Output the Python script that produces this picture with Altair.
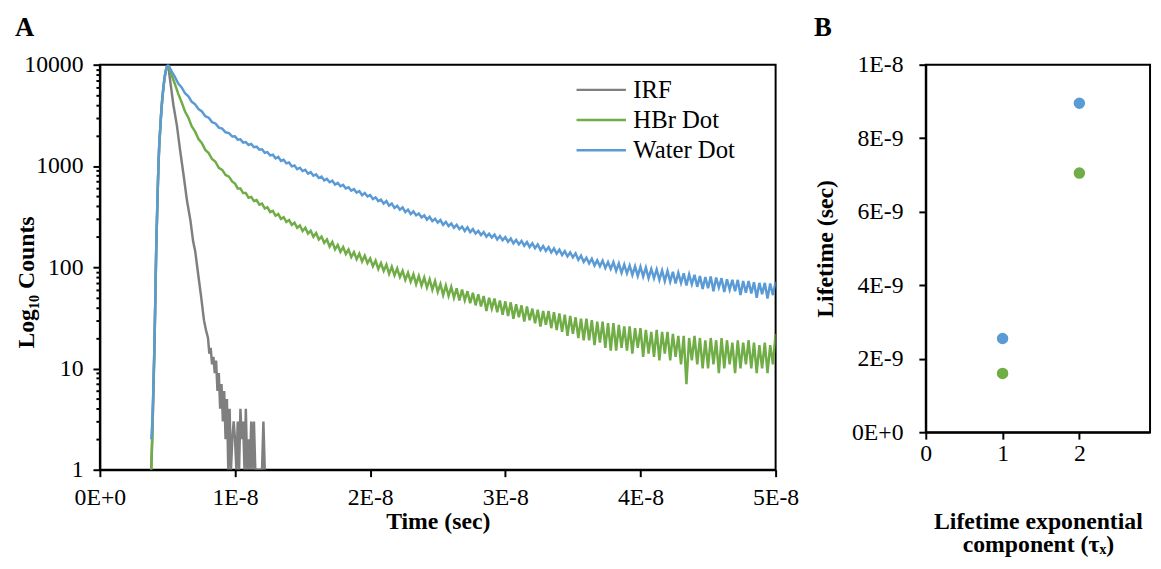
import altair as alt
import pandas as pd

# ---------------- Panel A data (time in ns, counts) ----------------
t_rise = [3.80, 3.88, 3.95, 4.03, 4.10, 4.17, 4.25, 4.32, 4.39, 4.47,
          4.54, 4.61, 4.69, 4.76, 4.83, 4.90, 4.98, 5.05]
t_early = [5.3, 5.55, 5.8, 6.05, 6.3, 6.55, 6.8, 7.05, 7.3, 7.55,
           7.8, 8.05, 8.3, 8.55, 8.8, 9.05, 9.3, 9.55, 9.8]
t_tail = [10.0, 10.2, 10.4, 10.6, 10.8, 11.0, 11.2, 11.4, 11.6, 11.8,
          12.0, 12.2, 12.4, 12.6, 12.8, 13.0, 13.2, 13.4, 13.6, 13.8,
          14.0, 14.2, 14.4, 14.6, 14.8, 15.0, 15.2, 15.4, 15.6, 15.8,
          16.0, 16.2, 16.4, 16.6, 16.8, 17.0, 17.2, 17.4, 17.6, 17.8,
          18.0, 18.2, 18.4, 18.6, 18.8, 19.0, 19.2, 19.4, 19.6, 19.8,
          20.0, 20.2, 20.4, 20.6, 20.8, 21.0, 21.2, 21.4, 21.6, 21.8,
          22.0, 22.2, 22.4, 22.6, 22.8, 23.0, 23.2, 23.4, 23.6, 23.8,
          24.0, 24.2, 24.4, 24.6, 24.8, 25.0, 25.2, 25.4, 25.6, 25.8,
          26.0, 26.2, 26.4, 26.6, 26.8, 27.0, 27.2, 27.4, 27.6, 27.8,
          28.0, 28.2, 28.4, 28.6, 28.8, 29.0, 29.2, 29.4, 29.6, 29.8,
          30.0, 30.2, 30.4, 30.6, 30.8, 31.0, 31.2, 31.4, 31.6, 31.8,
          32.0, 32.2, 32.4, 32.6, 32.8, 33.0, 33.2, 33.4, 33.6, 33.8,
          34.0, 34.2, 34.4, 34.6, 34.8, 35.0, 35.2, 35.4, 35.6, 35.8,
          36.0, 36.2, 36.4, 36.6, 36.8, 37.0, 37.2, 37.4, 37.6, 37.8,
          38.0, 38.2, 38.4, 38.6, 38.8, 39.0, 39.2, 39.4, 39.6, 39.8,
          40.0, 40.2, 40.4, 40.6, 40.8, 41.0, 41.2, 41.4, 41.6, 41.8,
          42.0, 42.2, 42.4, 42.6, 42.8, 43.0, 43.2, 43.4, 43.6, 43.8,
          44.0, 44.2, 44.4, 44.6, 44.8, 45.0, 45.2, 45.4, 45.6, 45.8,
          46.0, 46.2, 46.4, 46.6, 46.8, 47.0, 47.2, 47.4, 47.6, 47.8,
          48.0, 48.2, 48.4, 48.6, 48.8, 49.0, 49.2, 49.4, 49.6, 49.8,
          50.0]

water_rise = [2, 3, 6, 16, 50, 160, 420, 900, 1600, 2400,
              3400, 4500, 5800, 7000, 8100, 9000, 9700, 10000]
water_early = [8650, 7580, 6520, 5960, 5220, 4870, 4300, 4060, 3640, 3450,
               3100, 3000, 2710, 2630, 2390, 2340, 2150, 2110, 1950]
water_tail = [1960, 1820, 1830, 1700, 1720, 1610, 1650, 1530, 1550, 1450,
              1460, 1350, 1370, 1270, 1290, 1190, 1230, 1120, 1150, 1060,
              1080, 990, 1010, 930, 960, 890, 915, 840, 870, 800,
              825, 760, 785, 720, 745, 690, 715, 655, 680, 630,
              650, 600, 615, 570, 590, 545, 565, 515, 540, 500,
              515, 470, 490, 450, 465, 425, 450, 405, 425, 385,
              405, 370, 390, 350, 370, 335, 355, 325, 340, 310,
              325, 295, 315, 285, 300, 275, 292, 262, 280, 255,
              270, 245, 262, 238, 252, 228, 248, 222, 238, 215,
              228, 208, 222, 200, 214, 196, 210, 188, 203, 185,
              198, 178, 192, 172, 186, 168, 182, 163, 177, 158,
              172, 154, 168, 148, 162, 145, 158, 140, 153, 136,
              149, 132, 144, 128, 140, 125, 137, 118, 130, 113,
              124, 109, 121, 104, 117, 102, 116, 98, 112, 96,
              112, 92, 109, 88, 106, 87, 104, 84, 102, 82,
              101, 81, 99, 78, 96, 78, 95, 75, 93, 73,
              92, 72, 90, 69, 88, 70, 87, 66, 85, 68,
              84, 64, 82, 61, 80, 62, 81, 58, 79, 63,
              78, 57, 76, 60, 75, 58, 75, 53, 73, 56,
              73, 55, 71, 50, 70, 54, 70, 49, 69, 53,
              72]

hbr_rise = [1, 2.5, 5.5, 15, 45, 150, 400, 870, 1550, 2350,
            3350, 4450, 5700, 6900, 8000, 8900, 9600, 10000]
hbr_early = [7950, 6450, 5150, 4250, 3450, 2990, 2460, 2180, 1840, 1680,
             1440, 1340, 1170, 1100, 960, 915, 815, 785, 700]
hbr_tail = [670, 600, 600, 540, 540, 485, 495, 450, 460, 415,
            425, 380, 390, 350, 360, 322, 335, 300, 312, 280,
            292, 262, 275, 245, 258, 228, 245, 215, 229, 200,
            218, 188, 200, 174, 188, 160, 178, 150, 166, 142,
            158, 135, 149, 126, 141, 120, 136, 114, 130, 110,
            122, 102, 116, 96, 110, 92, 106, 86, 101, 83,
            97, 80, 92, 75, 88, 72, 85, 68, 82, 66,
            79, 63, 76, 60, 73, 57, 68, 53, 66, 52,
            64, 50, 62, 47, 60, 47, 58, 44, 56, 42,
            54, 41, 52, 37, 50, 39, 49, 36, 47, 34,
            46, 33, 45, 31, 43, 32, 42, 29, 41, 30,
            39, 28, 38, 26, 37, 27, 37, 25, 36, 24,
            35, 23, 34, 21, 33, 22, 32, 20, 31, 19,
            31, 19, 30, 17, 29, 18, 29, 16, 28, 15,
            28, 15, 27, 16, 26, 15, 26, 14, 25, 16,
            25, 13, 24, 14, 23, 13, 24, 12, 23, 14,
            23, 12, 22, 13, 21, 11, 21, 7, 20, 12,
            21, 11, 20, 10, 19, 10, 20, 11, 19, 9,
            20, 10, 19, 11, 18, 9, 19, 10, 18, 11,
            19, 10, 18, 9, 17, 10, 18, 9, 17, 11,
            22]

t_irf = [3.80, 3.88, 3.95, 4.03, 4.10, 4.17, 4.25, 4.32, 4.39, 4.47,
         4.54, 4.61, 4.69, 4.76, 4.83, 4.90, 4.98, 5.05,
         5.2, 5.44, 5.7, 5.93, 6.2, 6.45, 6.7, 6.9, 7.05, 7.3, 7.5, 7.7, 7.85, 8.0,
         8.1, 8.2, 8.3, 8.4, 8.5, 8.6, 8.7, 8.8, 8.9, 9.0,
         9.1, 9.2, 9.3, 9.4, 9.5, 9.6, 9.7, 9.8, 9.9, 10.0,
         10.1, 10.2, 10.3, 10.4, 10.5, 10.6, 10.7, 10.8, 10.9, 11.0,
         11.1, 11.2, 11.3, 11.4, 11.5, 11.6, 11.8, 12.0, 12.1, 12.2]
irf_counts = [1, 2, 5, 14, 45, 150, 400, 880, 1580, 2400,
              3400, 4500, 5800, 7000, 8100, 9000, 9700, 10000,
              7000, 4000, 2500, 1450, 800, 450, 290, 180, 145, 80, 50, 30, 24, 20,
              14, 16, 11, 13, 9, 12, 6, 9, 4, 7,
              3, 6, 2, 5, 1, 4, 1, 2, 3, 2,
              1, 3, 1, 4, 2, 3, 1, 4, 1, 2,
              1, 3, 1, 3, 1, 1, 1, 1, 3, 1]

series_names = ["IRF", "HBr Dot", "Water Dot"]
series_colors = ["#7f7f7f", "#70ad47", "#5b9bd5"]

# ---------------- Panel B data ----------------
component = [1, 2]
hbr_lifetime = [1.60e-9, 7.05e-9]
water_lifetime = [2.55e-9, 8.95e-9]

# ---------------- tables ----------------
t_main = t_rise + t_early + t_tail
rows = []
for t, v in zip(t_irf, irf_counts):
    rows.append({"t": t * 1e-9, "v": v, "series": "IRF"})
for t, v in zip(t_main, hbr_rise + hbr_early + hbr_tail):
    rows.append({"t": t * 1e-9, "v": v, "series": "HBr Dot"})
for t, v in zip(t_main, water_rise + water_early + water_tail):
    rows.append({"t": t * 1e-9, "v": v, "series": "Water Dot"})
dfA = pd.DataFrame(rows)

dfB = pd.DataFrame({
    "comp": component + component,
    "life": hbr_lifetime + water_lifetime,
    "sample": ["HBr Dot"] * 2 + ["Water Dot"] * 2,
})

FONT = "Liberation Serif"
sci = "upper(format(datum.value, '.0e'))"
yscale = alt.Scale(type="log", domain=[1, 10000], nice=False)

lines = alt.Chart(dfA).mark_line(strokeWidth=2.5, clip=True).encode(
    x=alt.X("t:Q",
            scale=alt.Scale(domain=[0, 5e-8], nice=False, zero=False),
            axis=alt.Axis(values=[0, 1e-8, 2e-8, 3e-8, 4e-8, 5e-8], labelExpr=sci,
                          title="Time (sec)", tickSize=7, labelPadding=9,
                          titlePadding=0, labelFlush=False)),
    y=alt.Y("v:Q", scale=yscale,
            axis=alt.Axis(values=[1, 10, 100, 1000, 10000], format="d",
                          title="Log₁₀ Counts", tickSize=7, labelPadding=10,
                          orient="left", titleX=-62, titleY=220, labelFlush=False)),
    color=alt.Color("series:N",
                    scale=alt.Scale(domain=series_names, range=series_colors),
                    sort=series_names,
                    legend=alt.Legend(title=None, orient="none", legendX=495, legendY=13,
                                      symbolType="M-2.5,0H2.5", symbolSize=400,
                                      symbolStrokeWidth=2.5, labelFontSize=25,
                                      labelFont=FONT, labelColor="black",
                                      rowPadding=4.5, labelOffset=20)),
)

minor_vals = [2, 3, 4, 5, 6, 7, 8, 9, 20, 30, 40, 50, 60, 70, 80, 90,
              200, 300, 400, 500, 600, 700, 800, 900,
              2000, 3000, 4000, 5000, 6000, 7000, 8000, 9000]
minor = alt.Chart(pd.DataFrame({"v": [1]})).mark_point(opacity=0).encode(
    y=alt.Y("v:Q", scale=yscale,
            axis=alt.Axis(values=minor_vals, labels=False, title=None, tickSize=4,
                          orient="left", domain=False, grid=False))
)

panelA = alt.layer(lines, minor).resolve_axis(y="independent").properties(
    width=684, height=410,
    title=alt.TitleParams("A", anchor="start", frame="bounds", fontSize=27,
                          font=FONT, fontWeight="bold", color="black", offset=11),
)

panelB = alt.Chart(dfB).mark_circle(size=135, opacity=1).encode(
    x=alt.X("comp:Q", scale=alt.Scale(domain=[0, 2.92], nice=False),
            axis=alt.Axis(values=[0, 1, 2], format="d",
                          title=["Lifetime exponential", "component (τₓ)"],
                          tickSize=7, labelPadding=3, titlePadding=44,
                          titleLineHeight=24, labelFlush=False)),
    y=alt.Y("life:Q", scale=alt.Scale(domain=[0, 1e-8], nice=False),
            axis=alt.Axis(values=[0, 2e-9, 4e-9, 6e-9, 8e-9, 1e-8], labelExpr=sci,
                          title="Lifetime (sec)", tickSize=7, labelPadding=16,
                          titlePadding=14, labelFlush=False)),
    color=alt.Color("sample:N",
                    scale=alt.Scale(domain=["HBr Dot", "Water Dot"],
                                    range=["#70ad47", "#5b9bd5"]),
                    legend=None),
).properties(
    width=227, height=372,
    title=alt.TitleParams("B", anchor="start", frame="bounds", fontSize=27,
                          font=FONT, fontWeight="bold", color="black", offset=11),
)

chart = alt.hconcat(panelA, panelB, spacing=12).resolve_scale(
    color="independent").resolve_legend(color="independent").configure_view(
    stroke="black", strokeWidth=2
).configure_axis(
    grid=False, domainColor="black", domainWidth=2, tickColor="black", tickWidth=2,
    labelColor="black", titleColor="black", labelFont=FONT, labelFontSize=24,
    titleFont=FONT, titleFontSize=24, titleFontWeight="bold"
).properties(
    background="white",
    padding={"left": 6, "top": 2, "right": 2, "bottom": 0},
)

chart.save("out.html", embed_options={"renderer": "svg", "actions": False})
